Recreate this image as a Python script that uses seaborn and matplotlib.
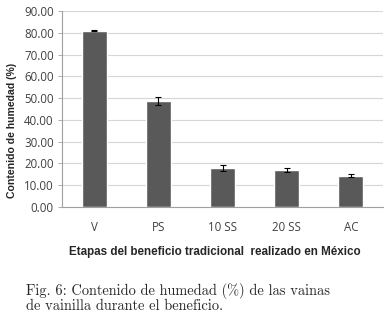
import numpy as np
import pandas as pd
import matplotlib
matplotlib.use('Agg')
import matplotlib.pyplot as plt
import seaborn as sns

etapas = ["V", "PS", "10 SS", "20 SS", "AC"]
humedad = [81.0, 48.7, 17.9, 16.8, 14.4]
error = [0.3, 2.0, 1.4, 0.9, 0.6]
y_ticks = [0, 10, 20, 30, 40, 50, 60, 70, 80, 90]

df = pd.DataFrame({"Etapa": etapas, "Humedad": humedad})

sns.set_theme(style="white")
plt.rcParams['font.family'] = ['Open Sans', 'DejaVu Sans']

fig = plt.figure(figsize=(3.88, 3.17), dpi=100)
ax = fig.add_axes([0.160, 0.347, 0.827, 0.618])

sns.barplot(data=df, x="Etapa", y="Humedad", color="#595959", saturation=1,
            width=0.39, errorbar=None, ax=ax, zorder=3)
ax.errorbar(np.arange(len(etapas)), humedad, yerr=error, fmt="none",
            ecolor="black", elinewidth=0.8, capsize=2, capthick=0.8, zorder=4)

ax.set_ylim(0, 90)
ax.set_xlim(-0.5, len(etapas) - 0.5)
ax.set_yticks(y_ticks)
ax.set_yticklabels([f"{v:.2f}" for v in y_ticks], fontsize=8.3, color="#404040")
ax.set_xticks(np.arange(len(etapas)))
ax.set_xticklabels(etapas, fontsize=8.3, color="#404040")
ax.set_xticks(np.arange(len(etapas) + 1) - 0.5, minor=True)
ax.tick_params(axis="x", which="major", length=0, pad=10)
ax.tick_params(axis="x", which="minor", length=4, width=0.6, color="#a0a0a0", direction="out")
ax.tick_params(axis="y", length=3, width=0.6, color="#a0a0a0", pad=3, left=True)

ax.yaxis.grid(True, color="#d6d6d6", linewidth=0.8, zorder=0)
ax.set_axisbelow(True)
for s in ["top", "right"]:
    ax.spines[s].set_visible(False)
for s in ["left", "bottom"]:
    ax.spines[s].set_color("#a0a0a0")
    ax.spines[s].set_linewidth(0.8)

ax.set_ylabel("")
ax.set_xlabel("")
fig.text(0.030, 0.587, "Contenido de humedad (%)", rotation=90,
         ha="center", va="center", fontsize=7.6, fontweight="bold",
         family=["Liberation Sans", "DejaVu Sans"])
fig.text(0.554, 0.205, "Etapas del beneficio tradicional  realizado en México",
         ha="center", va="center", fontsize=8.4, fontweight="bold",
         family=["Liberation Sans", "DejaVu Sans"])

fig.text(0.067, 0.083, "Fig. 6: Contenido de humedad (%) de las vainas",
         ha="left", va="center", fontsize=10.4, family=["cmr10", "DejaVu Serif"])
fig.text(0.067, 0.033, "de vainilla durante el beneficio.",
         ha="left", va="center", fontsize=10.4, family=["cmr10", "DejaVu Serif"])

fig.savefig("out.png", dpi=100)
